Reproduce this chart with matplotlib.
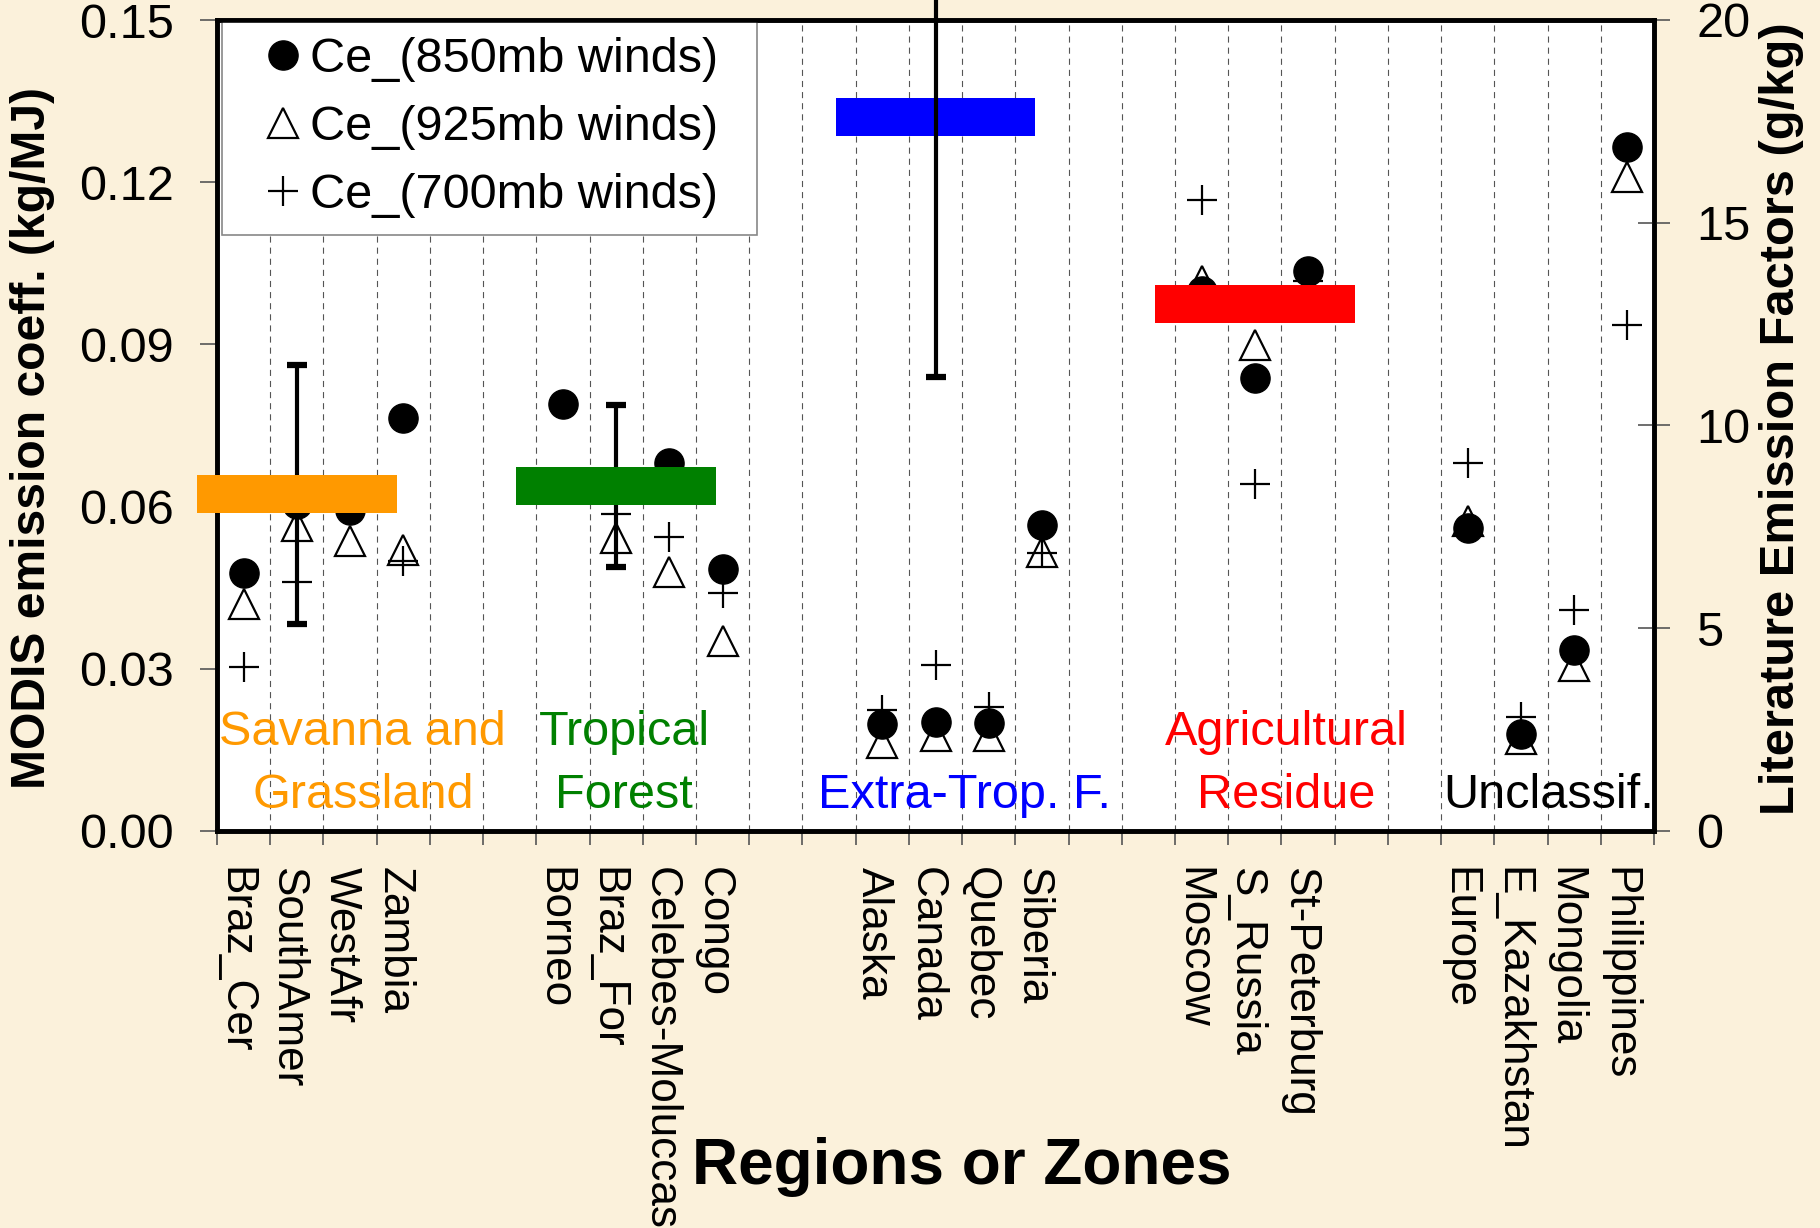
import numpy as np
import matplotlib
matplotlib.use('Agg')
from matplotlib import pyplot as plt
from matplotlib.ticker import FormatStrFormatter
from matplotlib.transforms import ScaledTranslation

plt.rcParams['font.family'] = ['Liberation Sans', 'DejaVu Sans']

nan = np.nan

# 27 category slots, blanks separate the vegetation groups
regions = ['Braz_Cer', 'SouthAmer', 'WestAfr', 'Zambia', '', '',
           'Borneo', 'Braz_For', 'Celebes-Moluccas', 'Congo', '', '',
           'Alaska', 'Canada', 'Quebec', 'Siberia', '', '',
           'Moscow', 'S_Russia', 'St-Peterburg', '', '',
           'Europe', 'E_Kazakhstan', 'Mongolia', 'Philippines']

ce_850 = [0.0477, 0.0605, 0.0594, 0.0763, nan, nan,
          0.0789, nan, 0.0680, 0.0484, nan, nan,
          0.0197, 0.0202, 0.0200, 0.0566, nan, nan,
          0.0998, 0.0838, 0.1036, nan, nan,
          0.0560, 0.0179, 0.0334, 0.1266]
ce_925 = [0.0420, 0.0565, 0.0537, 0.0520, nan, nan,
          nan, 0.0541, 0.0479, 0.0352, nan, nan,
          0.0162, 0.0176, 0.0175, 0.0516, nan, nan,
          0.1018, 0.0898, nan, nan, nan,
          0.0573, 0.0171, 0.0306, 0.1210]
ce_700 = [0.0304, 0.0461, nan, 0.0499, nan, nan,
          nan, 0.0586, 0.0544, 0.0440, nan, nan,
          0.0224, 0.0307, 0.0229, 0.0514, nan, nan,
          0.1168, 0.0642, 0.1018, nan, nan,
          0.0680, 0.0210, 0.0409, 0.0936]

# literature emission factors (g/kg), right axis
lit_at = ['SouthAmer', 'Braz_For', 'Canada', 'S_Russia']
lit_ef = [8.3, 8.5, 17.6, 13.0]
lit_sd = [3.2, 2.0, 6.4, nan]
lit_colors = ['#FF9900', '#008000', '#0000FF', '#FF0000']

group_names = ['Savanna and\nGrassland', 'Tropical\nForest', 'Extra-Trop. F.',
               'Agricultural\nResidue', 'Unclassif.']
group_colors = ['#FF9900', '#008000', '#0000FF', '#FF0000', 'black']
group_x = [2.74, 7.65, 14.04, 20.09, 25.03]

W, H = 1820, 1228
fig = plt.figure(figsize=(W / 100, H / 100), dpi=100, facecolor='#FBF1DB')
ax = fig.add_axes([217 / W, 1 - 831 / H, 1437 / W, 811 / H])
ax.set_facecolor('white')

x = np.arange(len(regions)) + 0.5
h1, = ax.plot(x, ce_850, 'o', color='black', ms=21, zorder=5, label='Ce_(850mb winds)')
h2, = ax.plot(x, ce_925, '^', mfc='white', mec='black', mew=1.6, ms=21, zorder=3,
              label='Ce_(925mb winds)')
h3, = ax.plot(x, ce_700, '+', color='black', mew=1.6, ms=22, zorder=4, label='Ce_(700mb winds)')

ax.set_xlim(0, len(regions))
ax.set_ylim(0, 0.15)
ax.set_yticks(np.arange(0, 0.151, 0.03))
ax.yaxis.set_major_formatter(FormatStrFormatter('%.2f'))
ax.set_xticks(np.arange(len(regions) + 1))
ax.set_xticks(x, regions, minor=True, rotation=-90, fontsize=31.8)
ax.tick_params(axis='x', which='major', direction='out', length=10, width=1.2,
               color='#555555', labelbottom=False)
ax.tick_params(axis='x', which='minor', length=0, pad=26)
ax.tick_params(axis='y', direction='out', length=12, width=1.2, color='#555555',
               labelsize=35, pad=19)
ax.grid(axis='x', which='major', color='#555555', lw=0.8, ls=(0, (5.5, 4.5)))

for name, gx, col in zip(group_names, group_x, group_colors):
    lines = name.split('\n')
    ys = [0.0159, 0.0042][-len(lines):]
    for line, gy in zip(lines, ys):
        ax.text(gx, gy, line, color=col, fontsize=35, ha='center', va='baseline', zorder=2)

ax.legend(handles=[h1, h2, h3], loc='upper left', bbox_to_anchor=(0.0035, 0, 0.372, 1.0),
          mode='expand', borderaxespad=0, fontsize=35, fancybox=False,
          edgecolor='#888888', framealpha=1, borderpad=0.35, handlelength=1.8,
          handletextpad=-0.35, labelspacing=0.47, numpoints=1).get_frame().set_linewidth(1.2)

ax2 = ax.twinx()
ax2.set_ylim(0, 20)
ax2.set_yticks([0, 5, 10, 15, 20])
ax2.tick_params(axis='y', direction='inout', length=23, width=1.2, color='#555555',
                labelsize=35, pad=19)

lit_x = [regions.index(r) + 0.5 for r in lit_at]
box_h = 0.94
bars = ax2.bar(lit_x, box_h, bottom=np.array(lit_ef) - box_h / 2, width=3.75,
               color=lit_colors, zorder=3, clip_on=False)
bars[2].set_zorder(1)
eb = ax2.errorbar(lit_x, lit_ef, yerr=lit_sd, fmt='none', ecolor='black',
                  elinewidth=3, capsize=7, capthick=4.5, zorder=2)
for art in eb.get_children():
    art.set_clip_on(False)

for a in (ax, ax2):
    for sp in a.spines.values():
        sp.set_linewidth(3.3)
        sp.set_color('black')

fig.text(33 / W, 1 - 438 / H, 'MODIS emission coeff. (kg/MJ)', rotation=90,
         ha='center', va='center', fontsize=34.6, fontweight='bold')
fig.text(1782 / W, 1 - 419 / H, 'Literature Emission Factors (g/kg)', rotation=90,
         ha='center', va='center', fontsize=35.2, fontweight='bold')
fig.text(962 / W, 1 - 1167 / H, 'Regions or Zones', ha='center', va='center',
         fontsize=46, fontweight='bold')

# nudge the rotated region names a little to the left, as in the original
shift = ScaledTranslation(-0.09, 0, fig.dpi_scale_trans)
for lab in ax.get_xticklabels(minor=True):
    lab.set_transform(lab.get_transform() + shift)

fig.savefig('out.png', dpi=100, facecolor=fig.get_facecolor())
